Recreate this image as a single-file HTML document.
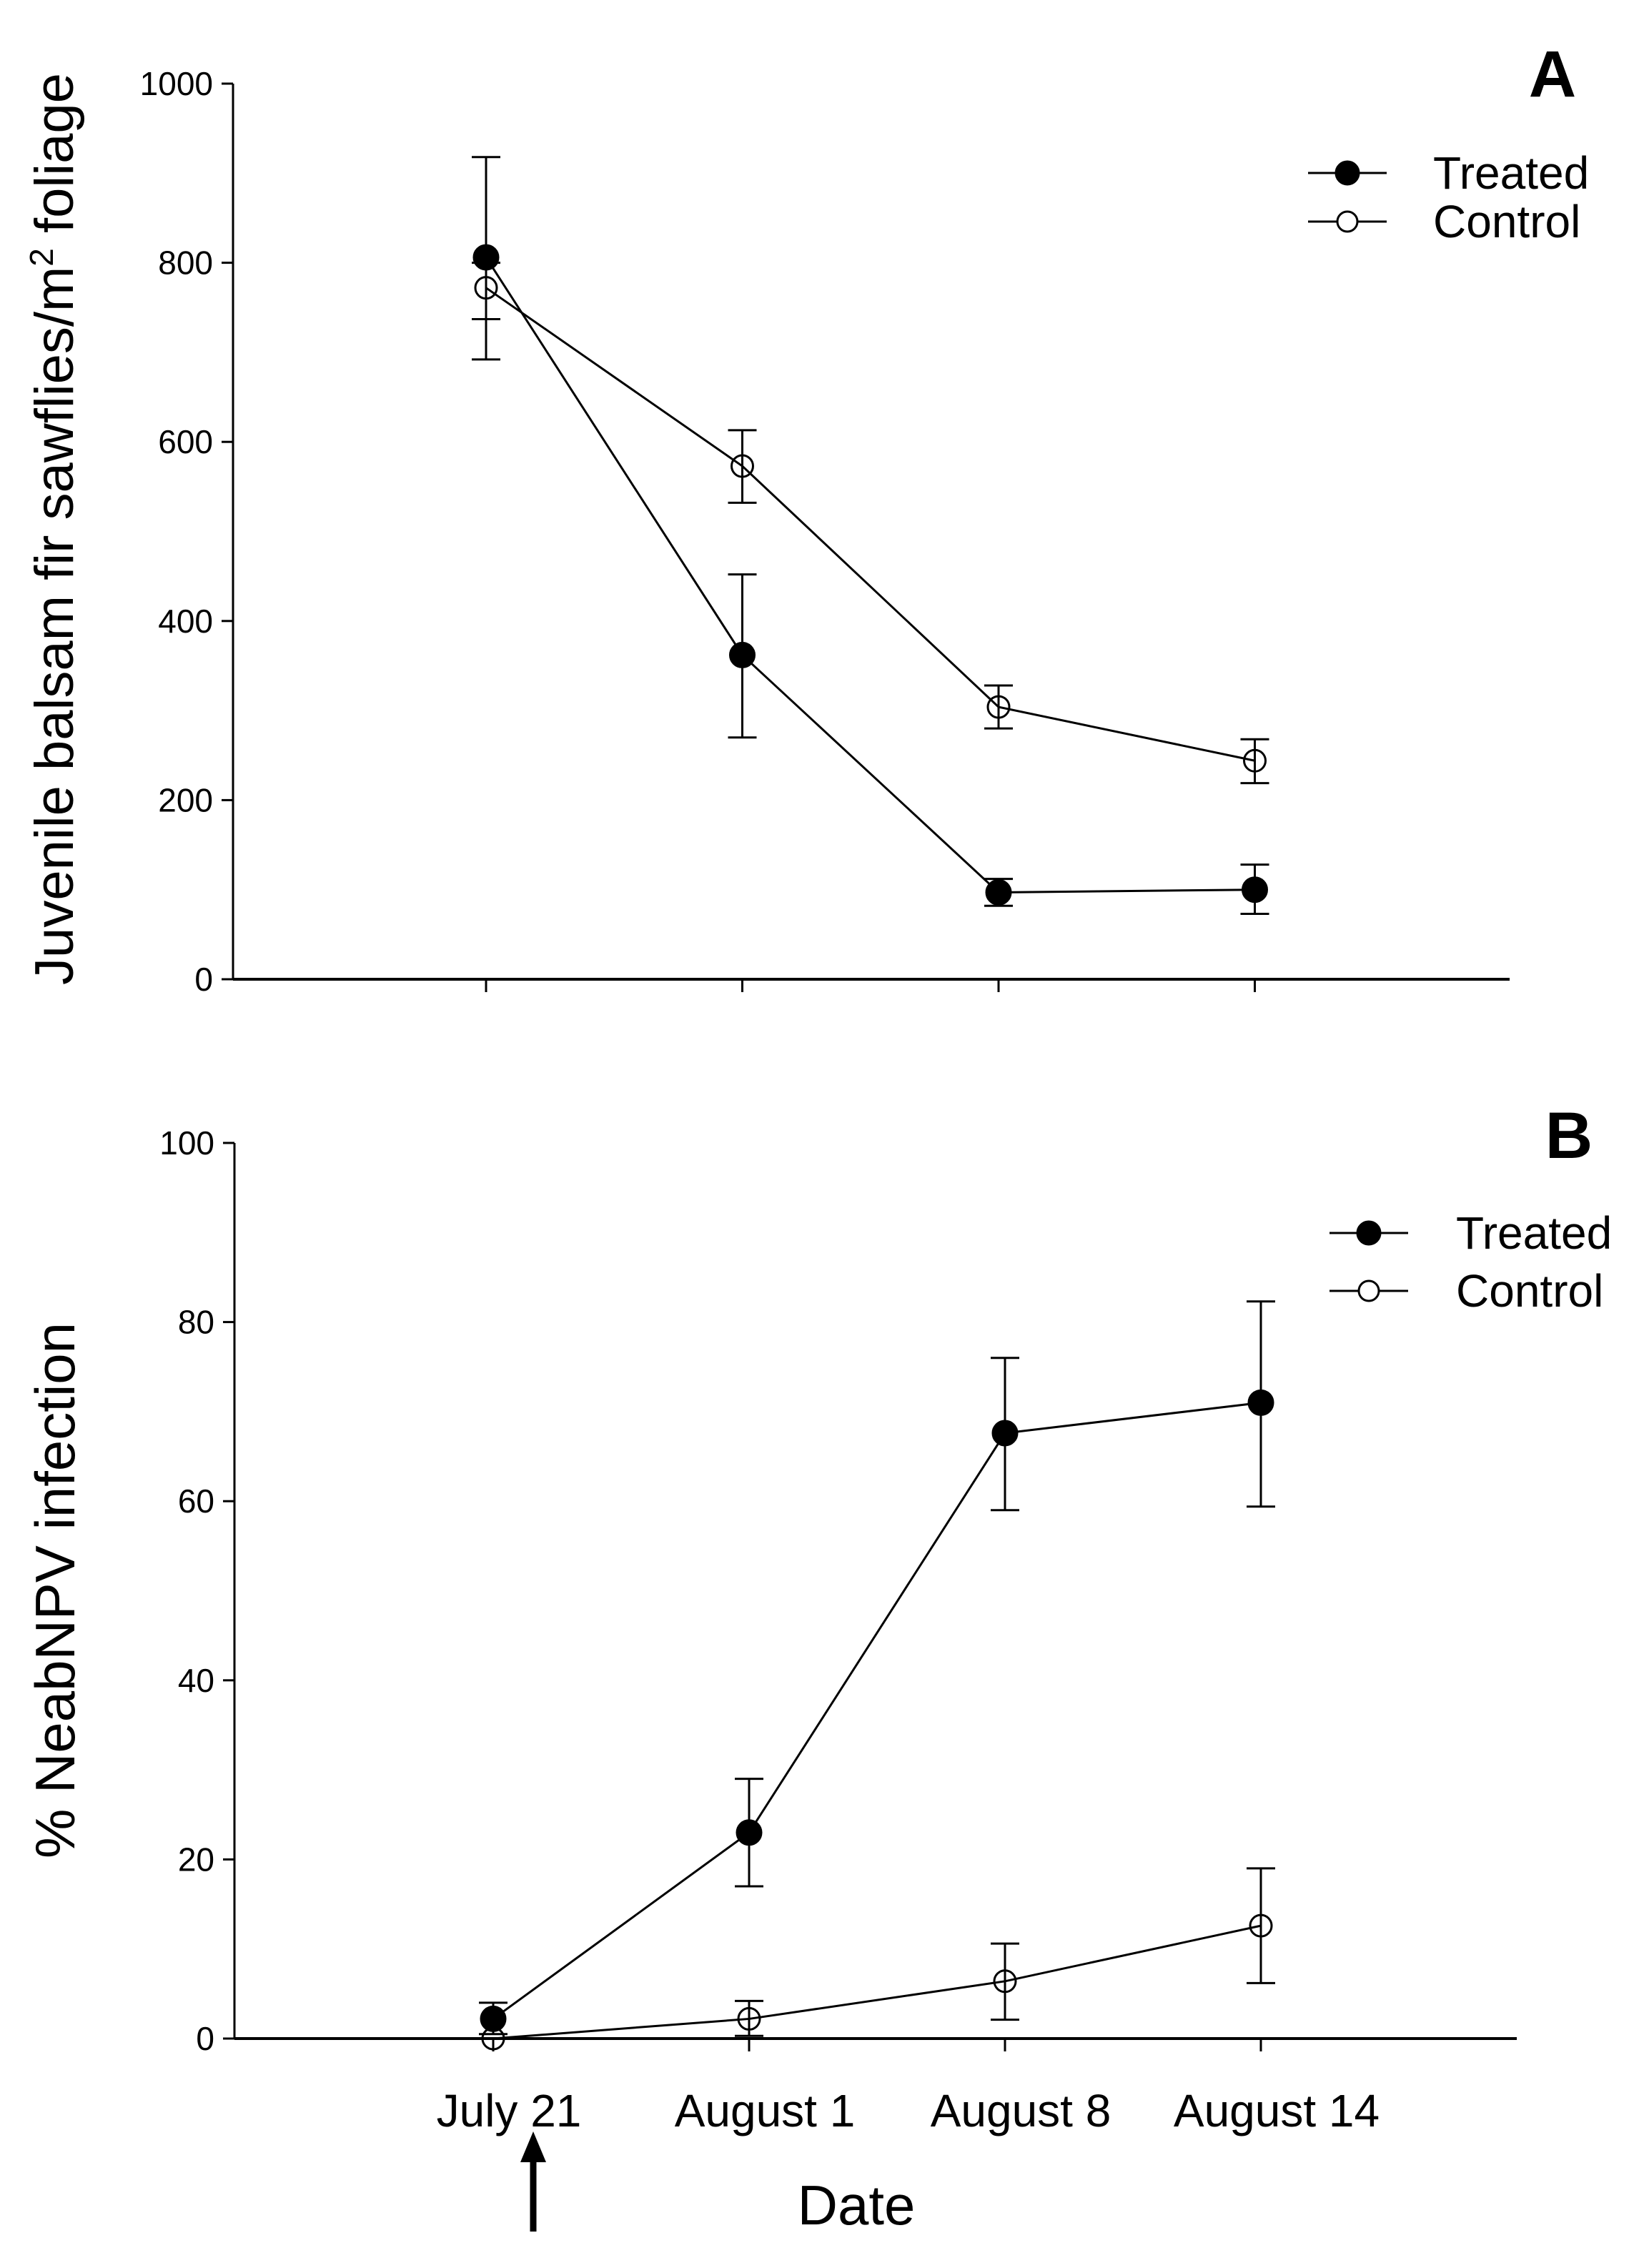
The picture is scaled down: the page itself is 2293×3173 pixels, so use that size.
<!DOCTYPE html>
<html><head><meta charset="utf-8"><style>
html,body{margin:0;padding:0;background:#fff}
svg{display:block}
text{font-family:"Liberation Sans",Arial,sans-serif;fill:#000}
</style></head><body>
<svg id="chart" width="2293" height="3173" viewBox="0 0 2293 3173" xmlns="http://www.w3.org/2000/svg">
<g id="pa"></g>
<g id="pb"></g>
<text x="2172" y="135" font-size="92" font-weight="bold" text-anchor="middle">A</text>
<text x="2195" y="1620" font-size="92" font-weight="bold" text-anchor="middle">B</text>
<text transform="translate(102,740) rotate(-90)" font-size="76" text-anchor="middle">Juvenile balsam fir sawflies/m<tspan font-size="46" dy="-28">2</tspan><tspan dy="28"> foliage</tspan></text>
<text transform="translate(104,2225) rotate(-90)" font-size="78" text-anchor="middle">% NeabNPV infection</text>
<text x="1198" y="3112" font-size="78" text-anchor="middle">Date</text>
<g>
<line x1="746" y1="3122" x2="746" y2="3015" stroke="#000" stroke-width="9"/>
<polygon points="746,2982 728,3025 764,3025" fill="#000"/>
</g>
</svg>
<script>
const dates = ["July 21","August 1","August 8","August 14"];
const aTicks = [0,200,400,600,800,1000];
const aTreated = [806,362,97,100];
const aTreatedHi = [918,452,112,128];
const aTreatedLo = [692,270,82,73];
const aControl = [772,573,304,244];
const aControlHi = [800,613,328,268];
const aControlLo = [737,532,280,219];
const bTicks = [0,20,40,60,80,100];
const bTreated = [2.2,23,67.6,71];
const bTreatedHi = [4,29,76,82.3];
const bTreatedLo = [0.5,17,59,59.4];
const bControl = [0,2.2,6.4,12.6];
const bControlHi = [0,4.2,10.6,19];
const bControlLo = [0,0.3,2.1,6.2];

const NS="http://www.w3.org/2000/svg";
function mk(parent,tag,attrs){const e=document.createElementNS(NS,tag);for(const k in attrs)e.setAttribute(k,attrs[k]);parent.appendChild(e);return e;}

function panel(g,cfg){
  const xs=i=>cfg.x0+i*cfg.dx;
  const ys=v=>cfg.yb-(v-0)/(cfg.ymax)*(cfg.yb-cfg.yt);
  let e=mk(g,'line',{x1:cfg.left,y1:cfg.yt,x2:cfg.left,y2:cfg.yb,stroke:'#000','stroke-width':3});
  
  
  e=mk(g,'line',{x1:cfg.left,y1:cfg.yb,x2:cfg.right,y2:cfg.yb,stroke:'#000','stroke-width':4});
  
  
  cfg.ticks.forEach(t=>{
    const y=ys(t);
    let l=mk(g,'line',{x1:cfg.left-16,y1:y,x2:cfg.left,y2:y,stroke:'#000','stroke-width':3});
    
    
    let tx=mk(g,'text',{x:cfg.left-28,y:y+16,'font-size':46,'text-anchor':'end'});
    tx.textContent=t;
    
    
  });
  dates.forEach((d,i)=>{
    let l=mk(g,'line',{x1:xs(i),y1:cfg.yb,x2:xs(i),y2:cfg.yb+18,stroke:'#000','stroke-width':3});
    
    
    if(cfg.labels){
      let tx=mk(g,'text',{x:xs(i)+22,y:2975,'font-size':64,'text-anchor':'middle'});
      tx.textContent=d;
      
      
    }
  });
  const series=[[cfg.ctl,cfg.ctlHi,cfg.ctlLo,false,'control'],[cfg.tr,cfg.trHi,cfg.trLo,true,'treated']];
  series.forEach(([v,hi,lo,filled,name])=>{
    const pl=mk(g,'polyline',{points:v.map((d,i)=>xs(i)+','+ys(d)).join(' '),fill:'none',stroke:'#000','stroke-width':3});
    
    
    v.forEach((d,i)=>{
      const x=xs(i);
      const eb=mk(g,'path',{d:`M${x},${ys(hi[i])}V${ys(lo[i])}M${x-20},${ys(hi[i])}H${x+20}M${x-20},${ys(lo[i])}H${x+20}`,stroke:'#000','stroke-width':3,fill:'none'});
      
      
      const c=mk(g,'circle',{cx:x,cy:ys(d),r:filled?17:15,fill:filled?'#000':'none',stroke:'#000','stroke-width':3});
      
      
    });
  });
  [[cfg.leg.y1,true,'Treated'],[cfg.leg.y2,false,'Control']].forEach(([y,f,lab])=>{
    const lg=mk(g,'g',{});
    
    
    mk(lg,'line',{x1:cfg.leg.x-55,y1:y,x2:cfg.leg.x+55,y2:y,stroke:'#000','stroke-width':3});
    mk(lg,'circle',{cx:cfg.leg.x,cy:y,r:f?16:14,fill:f?'#000':'#fff',stroke:'#000','stroke-width':3});
    const t=mk(lg,'text',{x:cfg.leg.tx,y:y+22,'font-size':64});
    t.textContent=lab;
  });
}
panel(document.getElementById('pa'),{left:326,right:2112,yt:117,yb:1370,ymax:1000,x0:680,dx:358.5,ticks:aTicks,
  tr:aTreated,trHi:aTreatedHi,trLo:aTreatedLo,ctl:aControl,ctlHi:aControlHi,ctlLo:aControlLo,labels:false,
  leg:{x:1885,y1:242,y2:310,tx:2005}});
panel(document.getElementById('pb'),{left:328,right:2122,yt:1599,yb:2852,ymax:100,x0:690,dx:358,ticks:bTicks,
  tr:bTreated,trHi:bTreatedHi,trLo:bTreatedLo,ctl:bControl,ctlHi:bControlHi,ctlLo:bControlLo,labels:true,
  leg:{x:1915,y1:1725,y2:1806,tx:2037}});
</script>
</body></html>
